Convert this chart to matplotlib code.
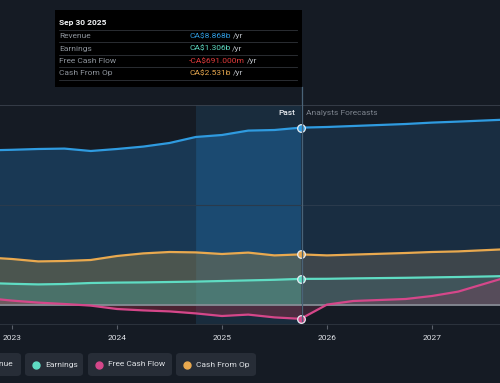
import matplotlib
matplotlib.use("Agg")
import matplotlib.pyplot as plt
from matplotlib.patches import FancyBboxPatch, Rectangle
from matplotlib.lines import Line2D

plt.rcParams['font.family'] = ['Roboto', 'DejaVu Sans']

# ---- data (CA$ billions) ----
past_t = [2022.75, 2023.0, 2023.25, 2023.5, 2023.75, 2024.0, 2024.25, 2024.5,
          2024.75, 2025.0, 2025.25, 2025.5, 2025.75]
revenue_past = [7.73, 7.76, 7.80, 7.82, 7.70, 7.80, 7.92, 8.10, 8.40, 8.50, 8.72, 8.75, 8.868]
earnings_past = [1.10, 1.06, 1.03, 1.05, 1.10, 1.12, 1.13, 1.15, 1.17, 1.20, 1.23, 1.26, 1.306]
fcf_past = [0.35, 0.22, 0.12, 0.05, -0.03, -0.20, -0.27, -0.32, -0.42, -0.55, -0.48, -0.62, -0.691]
cfo_past = [2.38, 2.30, 2.18, 2.20, 2.25, 2.45, 2.58, 2.65, 2.63, 2.55, 2.62, 2.48, 2.531]

fc_t = [2025.75, 2026.0, 2026.25, 2026.75, 2027.0, 2027.25, 2027.75]
revenue_fc = [8.868, 8.90, 8.95, 9.05, 9.12, 9.17, 9.28]
earnings_fc = [1.306, 1.31, 1.33, 1.36, 1.38, 1.40, 1.45]
fcf_fc = [-0.691, 0.02, 0.20, 0.30, 0.45, 0.67, 1.45]
cfo_fc = [2.531, 2.48, 2.52, 2.60, 2.65, 2.68, 2.80]

band_t = past_t[8:]
band_rev = revenue_past[8:]

years = [2023, 2024, 2025, 2026, 2027]

C_REV = '#2f9be0'
C_EARN = '#5fdcc3'
C_FCF = '#d5478a'
C_CFO = '#e9a94f'
BG = '#151b24'
FS = 6.0

W, H = 500, 383
fig = plt.figure(figsize=(5.0, 3.83), dpi=100, facecolor=BG)


def fx(x):
    return x / W


def fy(y):
    return 1 - y / H


ax = fig.add_axes([0, fy(325), 1, fy(105) - fy(325)])
ax.set_facecolor(BG)
ax.set_xlim(2022.886, 2027.648)
ax.set_ylim(-1.0, 10.0)
for s in ax.spines.values():
    s.set_visible(False)

# past highlight band
ax.axvspan(2024.75, 2025.75, color='#2a6a9a', alpha=0.22, lw=0, zorder=0)

# grid
ax.axhline(10, color='#3b424d', lw=1.2, zorder=1)
ax.axhline(-1, color='#2b323c', lw=1.5, zorder=1)

# revenue fills
ax.fill_between(past_t, revenue_past, 0, color='#1b4468', alpha=0.72, lw=0, zorder=2)
ax.fill_between(band_t, band_rev, 0, color='#1d5c8c', alpha=0.45, lw=0, zorder=2)
ax.fill_between(fc_t, revenue_fc, 0, color='#1c3a55', alpha=0.6, lw=0, zorder=2)
ax.axhline(5, color='#2a3a4c', lw=0.8, zorder=2)
# cash from op fills
ax.fill_between(past_t, cfo_past, 0, color='#8a7a4a', alpha=0.45, lw=0, zorder=3)
ax.fill_between(fc_t, cfo_fc, 0, color='#6a6458', alpha=0.45, lw=0, zorder=3)
# earnings fills
ax.fill_between(past_t, earnings_past, 0, color='#4aa79a', alpha=0.35, lw=0, zorder=4)
ax.fill_between(fc_t, earnings_fc, 0, color='#4a7a80', alpha=0.3, lw=0, zorder=4)
# fcf fills
ax.fill_between(past_t, fcf_past, 0, color='#b0304a', alpha=0.35, lw=0, zorder=4)
ax.fill_between(fc_t, fcf_fc, 0, color='#8a3a5a', alpha=0.3, lw=0, zorder=4)

ax.axhline(0, color='#8a8f98', lw=1.2, zorder=5)

for t, v, c in [(past_t, revenue_past, C_REV), (fc_t, revenue_fc, C_REV),
                (past_t, cfo_past, C_CFO), (fc_t, cfo_fc, C_CFO),
                (past_t, earnings_past, C_EARN), (fc_t, earnings_fc, C_EARN),
                (past_t, fcf_past, C_FCF), (fc_t, fcf_fc, C_FCF)]:
    ax.plot(t, v, color=c, lw=1.6, zorder=6, solid_capstyle='round',
            solid_joinstyle='round')

for v, c in [(revenue_past[-1], C_REV), (cfo_past[-1], C_CFO),
             (earnings_past[-1], C_EARN), (fcf_past[-1], C_FCF)]:
    ax.plot([2025.75], [v], 'o', ms=5.5, mfc=c, mec='#e8eef4', mew=0.9, zorder=8)

ax.set_xticks(years)
ax.set_xticklabels([str(y) for y in years])
ax.tick_params(axis='x', colors='#5a606a', length=3, width=0.8, pad=4,
               labelcolor='#e0e3e8', labelsize=FS)
ax.set_yticks([])

ax.text(2025.70, 9.6, 'Past', color='#e8ebef', fontsize=FS, fontweight='medium',
        ha='right', va='center', zorder=9)
ax.text(2025.80, 9.6, 'Analysts Forecasts', color='#7d848e', fontsize=FS, ha='left',
        va='center', zorder=9)

# vertical marker line at Sep 30 2025
fig.add_artist(Line2D([fx(302), fx(302)], [fy(87), fy(321)], color='#4a6378', lw=0.9,
                      zorder=7))

# tooltip box
fig.add_artist(Rectangle((fx(55), fy(87)), fx(302) - fx(55), fy(10) - fy(87),
                         facecolor='#000000', edgecolor='none', zorder=10))
fig.text(fx(59), fy(22), 'Sep 30 2025', color='#f2f4f6', fontsize=FS,
         fontweight='bold', va='center', zorder=11)
rows = [('Revenue', 'CA$8.868b', C_REV, 36),
        ('Earnings', 'CA$1.306b', C_EARN, 48.5),
        ('Free Cash Flow', '-CA$691.000m', '#e23b3b', 61),
        ('Cash From Op', 'CA$2.531b', C_CFO, 73.5)]
for yy in [29.5, 42, 54.5, 67, 80]:
    fig.add_artist(Line2D([fx(59), fx(297)], [fy(yy), fy(yy)], color='#30343a', lw=0.6,
                          zorder=11))
for lab, val, c, yy in rows:
    fig.text(fx(59), fy(yy), lab, color='#8e949c', fontsize=FS, va='center', zorder=11)
    t = fig.text(fx(189), fy(yy), val, color=c, fontsize=FS, va='center', zorder=11)
    fig.canvas.draw()
    bb = t.get_window_extent()
    fig.text(bb.x1 / W + fx(2), fy(yy), '/yr', color='#b8bcc2', fontsize=FS,
             va='center', zorder=11)

# legend pills
pills = [('Revenue', C_REV, -30, 21), ('Earnings', C_EARN, 25, 83),
         ('Free Cash Flow', C_FCF, 88, 172), ('Cash From Op', C_CFO, 176, 256)]
for lab, c, x0, x1 in pills:
    fig.add_artist(FancyBboxPatch((fx(x0), fy(376)), fx(x1 - x0), fy(353) - fy(376),
                                  boxstyle='round,pad=0,rounding_size=0.008',
                                  facecolor='#272d37', edgecolor='none', zorder=2))
    fig.add_artist(Line2D([fx(x0 + 11)], [fy(364.5)], marker='o', ms=5, color=c,
                          lw=0, zorder=3))
    if x0 < 0:
        fig.text(fx(x1 - 8), fy(364.5), lab, color='#dfe2e6', fontsize=FS,
                 ha='right', va='center', zorder=3)
    else:
        fig.text(fx(x0 + 20), fy(364.5), lab, color='#dfe2e6', fontsize=FS,
                 va='center', zorder=3)

fig.savefig('out.png', dpi=100, facecolor=BG)
